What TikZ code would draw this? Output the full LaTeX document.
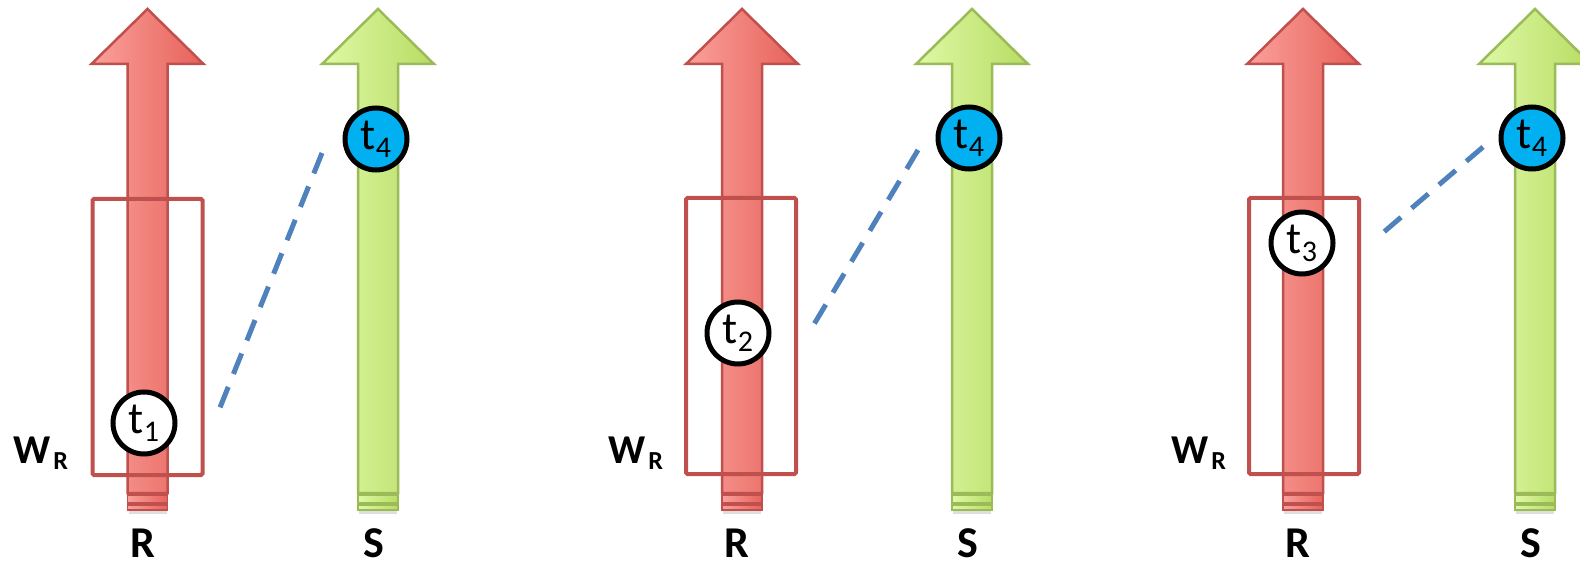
\documentclass[tikz,border=0pt]{standalone}
\usepackage{fontspec}
\setmainfont{Carlito}
\definecolor{redL}{RGB}{251,160,155}
\definecolor{redR}{RGB}{230,98,90}
\definecolor{redB}{RGB}{192,80,77}
\definecolor{grnL}{RGB}{222,249,165}
\definecolor{grnR}{RGB}{184,220,100}
\definecolor{grnB}{RGB}{155,187,89}
\definecolor{dashc}{RGB}{79,129,189}
\definecolor{tcyan}{RGB}{0,176,240}
\newcommand\bigarrow[4]{%
  \fill[black!25,opacity=0.5] (#1-19,509) rectangle (#1+19,514);
  \path[draw=#4,line width=2.5,left color=#2,right color=#3,line join=miter]
    (#1-20,493) -- (#1-20,64) -- (#1-56,64) -- (#1,9) -- (#1+56,64) -- (#1+20,64) -- (#1+20,493) -- cycle;
  \path[draw=#4,line width=1.5,left color=#2,right color=#3] (#1-20,495) rectangle (#1+20,503);
  \path[draw=#4,line width=1.5,left color=#2,right color=#3] (#1-20,505) rectangle (#1+20,510);
}
\newcommand\tsub[1]{\raisebox{-8pt}{\fontsize{30}{30}\selectfont #1}}
\tikzset{
  tnode/.style={circle,draw=black,line width=5,fill=white,minimum size=62,inner sep=0,
    font=\fontsize{45}{45}\selectfont},
  tfour/.style={tnode,fill=tcyan},
  wbox/.style={draw=redB,line width=4,rounded corners=1.5,minimum width=110,minimum height=276,inner sep=0},
  dashline/.style={draw=dashc,line width=5,dash pattern=on 22 off 14},
  lab/.style={anchor=base,inner sep=0,font=\fontsize{44}{44}\selectfont\bfseries},
  wlab/.style={anchor=base west,inner sep=0,font=\fontsize{41}{41}\selectfont\bfseries}
}
\newcommand\wrlabel{W\kern3pt\raisebox{-6pt}{\fontsize{26}{26}\selectfont\bfseries R}}
\begin{document}
\begin{tikzpicture}[x=1pt,y=-1pt]
\useasboundingbox (0,0) rectangle (1580,564);
\fill[white] (0,0) rectangle (1580,564);
% arrows
\bigarrow{147.5}{redL}{redR}{redB}
\bigarrow{378}{grnL}{grnR}{grnB}
\bigarrow{742}{redL}{redR}{redB}
\bigarrow{972}{grnL}{grnR}{grnB}
\bigarrow{1303}{redL}{redR}{redB}
\bigarrow{1535}{grnL}{grnR}{grnB}
% windows
\node[wbox] (box1) at (147.5,337) {};
\node[wbox] (box2) at (741,336) {};
\node[wbox] (box3) at (1304,336) {};
% dashed connectors
\coordinate (d1a) at (322,153); \coordinate (d1b) at (217,415);
\coordinate (d2a) at (918,150); \coordinate (d2b) at (810,331);
\coordinate (d3a) at (1483,147); \coordinate (d3b) at (1378,237);
\draw[dashline] (d1a) -- (d1b);
\draw[dashline] (d2a) -- (d2b);
\draw[dashline] (d3a) -- (d3b);
% tuples
\node[tnode] (t1) at (144,423) {t\tsub{1}};
\node[tnode] (t2) at (738,333) {t\tsub{2}};
\node[tnode] (t3) at (1302,243) {t\tsub{3}};
\node[tfour] (t4a) at (376,139) {t\tsub{4}};
\node[tfour] (t4b) at (969,138) {t\tsub{4}};
\node[tfour] (t4c) at (1532,138) {t\tsub{4}};
% labels
\node[wlab] (w1) at (13,463) {\wrlabel};
\node[wlab] (w2) at (608,463) {\wrlabel};
\node[wlab] (w3) at (1171,463) {\wrlabel};
\node[lab] (r1) at (142.5,557) {R};
\node[lab] (s1) at (374,557) {S};
\node[lab] (r2) at (737,557) {R};
\node[lab] (s2) at (968,557) {S};
\node[lab] (r3) at (1298,557) {R};
\node[lab] (s3) at (1531,557) {S};
\end{tikzpicture}
\end{document}
